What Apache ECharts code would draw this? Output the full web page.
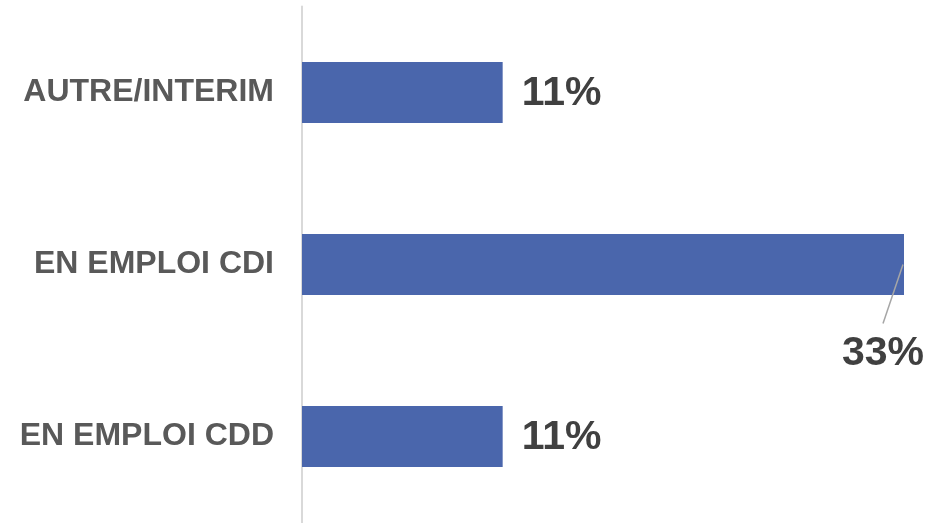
<!DOCTYPE html>
<html>
<head>
<meta charset="utf-8">
<script src="https://cdn.jsdelivr.net/npm/echarts@6/dist/echarts.min.js"></script>
<style>
html,body{margin:0;padding:0;background:#fff;}
#c{width:945px;height:523px;}
</style>
</head>
<body>
<div id="c"></div>
<script>
var categories = ["AUTRE/INTERIM", "EN EMPLOI CDI", "EN EMPLOI CDD"];
var values = [11, 33, 11];
var valueLabels = ["11%", "33%", "11%"];
var calloutIndex = 1; // label moved below the bar with a leader line

var chart = echarts.init(document.getElementById('c'));
chart.setOption({
  animation: false,
  grid: {left: 302, width: 602, top: 6.5, bottom: 0.5, containLabel: false},
  xAxis: {
    type: 'value', min: 0, max: 33, show: false
  },
  yAxis: {
    type: 'category', inverse: true, data: categories,
    axisLine: {show: true, lineStyle: {color: '#d9d9d9', width: 2}},
    axisTick: {show: false},
    axisLabel: {
      color: '#595959', fontFamily: 'Liberation Sans, Arial, sans-serif',
      fontWeight: 'bold', fontSize: 32, margin: 28
    }
  },
  series: [{
    type: 'bar',
    data: values,
    barWidth: '35.5%',
    itemStyle: {color: '#4a66ac'},
    label: {
      show: true, position: 'right', distance: 19,
      color: '#404040', fontFamily: 'Liberation Sans, Arial, sans-serif',
      fontWeight: 'bold', fontSize: 41,
      formatter: function (p) { return valueLabels[p.dataIndex]; }
    },
    labelLayout: function (p) {
      if (p.dataIndex === calloutIndex) {
        return {dx: -81, dy: 89};
      }
      return {dy: 1};
    }
  }, {
    type: 'custom',
    silent: true,
    z: 5,
    data: [[values[calloutIndex], calloutIndex]],
    encode: {x: 0, y: 1},
    renderItem: function (params, api) {
      var p = api.coord([api.value(0), api.value(1)]);
      return {
        type: 'line',
        shape: {x1: p[0] - 1, y1: p[1], x2: p[0] - 21, y2: p[1] + 59},
        style: {stroke: '#a6a6a6', lineWidth: 1.5}
      };
    }
  }]
});
</script>
</body>
</html>
